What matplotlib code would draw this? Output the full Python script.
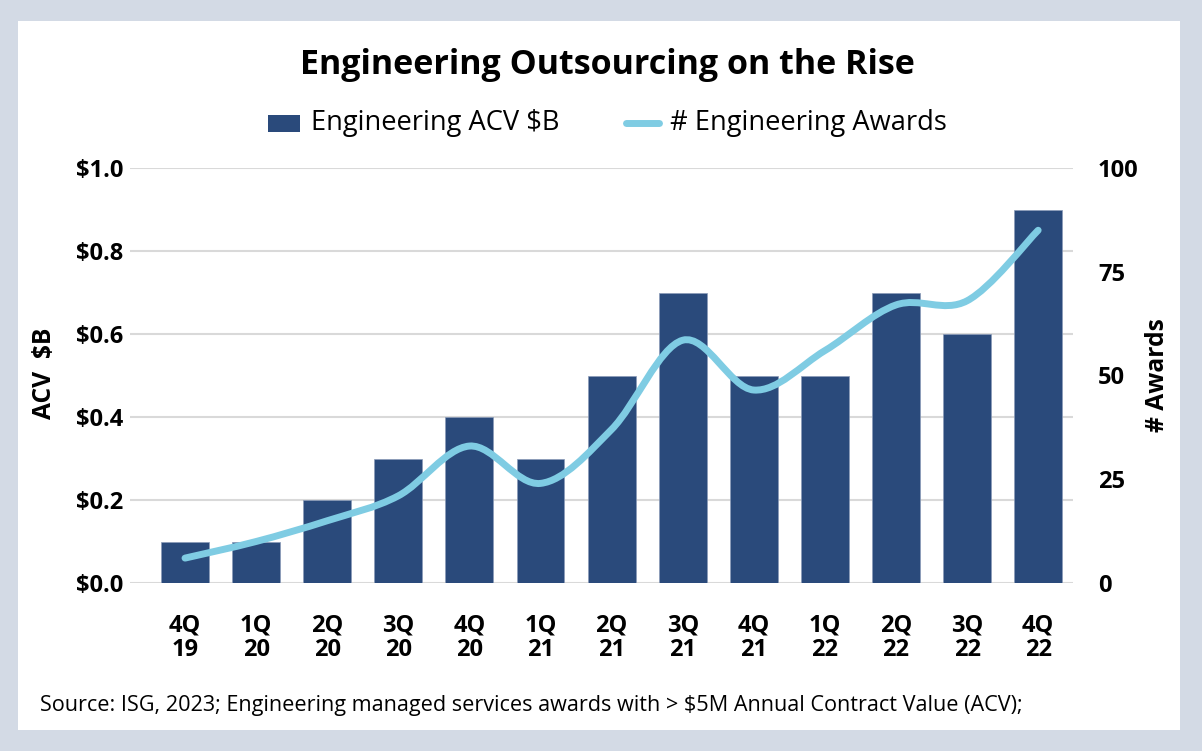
import numpy as np
import matplotlib.pyplot as plt
from matplotlib.patches import Rectangle
from matplotlib.lines import Line2D
from matplotlib.path import Path
from matplotlib.patches import PathPatch

plt.rcParams['font.family'] = ['Open Sans', 'DejaVu Sans']

# Данные
quarters = ['4Q\n19', '1Q\n20', '2Q\n20', '3Q\n20', '4Q\n20', '1Q\n21', '2Q\n21',
            '3Q\n21', '4Q\n21', '1Q\n22', '2Q\n22', '3Q\n22', '4Q\n22']
acv = [0.1, 0.1, 0.2, 0.3, 0.4, 0.3, 0.5, 0.7, 0.5, 0.5, 0.7, 0.6, 0.9]
awards = [6, 10, 15, 21, 33, 24, 37, 58.5, 46.5, 56, 67, 68, 85]
left_ticks = [0.0, 0.2, 0.4, 0.6, 0.8, 1.0]
right_ticks = [0, 25, 50, 75, 100]

bar_color = '#2A4A7B'
line_color = '#7FCCE3'
grid_color = '#D9D9D9'

W, H = 1202, 751
fig = plt.figure(figsize=(W / 100, H / 100), dpi=100, facecolor='#D3DAE5')
fig.patches.append(Rectangle((18 / W, 1 - 730 / H), (1180 - 18) / W, (730 - 21) / H,
                             transform=fig.transFigure, facecolor='white',
                             edgecolor='none', zorder=-5))

ax = fig.add_axes([130 / W, 1 - 583 / H, (1073 - 130) / W, (583 - 168) / H])
ax.set_facecolor('white')
x = np.arange(len(quarters))
ax.bar(x, acv, width=0.675, color=bar_color, edgecolor='#8A9BB8', linewidth=0.5, zorder=2)
ax.set_xlim(-0.774, 12.49)
ax.set_ylim(0, 1.0)
ax.set_yticks(left_ticks)
ax.set_yticklabels([f'${v:.1f}' for v in left_ticks])
ax.set_xticks(x)
ax.set_xticklabels(quarters, linespacing=1.05)
ax.grid(axis='y', color=grid_color, linewidth=1.5, zorder=0)
ax.set_axisbelow(True)
for s in ax.spines.values():
    s.set_visible(False)
ax.tick_params(axis='y', length=0, pad=5, labelsize=17)
ax.tick_params(axis='x', length=0, pad=22, labelsize=17)
for lbl in ax.get_xticklabels() + ax.get_yticklabels():
    lbl.set_fontweight('bold')
ax.set_ylabel('ACV  $B', fontsize=17.7, fontweight='bold')
ax.yaxis.set_label_coords(-0.0774, 0.505)

# Правая ось: сглаженная линия (кривые Безье как в Excel)
ax2 = ax.twinx()
ax2.set_ylim(0, 100)
ax2.set_yticks(right_ticks)
ax2.tick_params(axis='y', length=0, pad=18, labelsize=17)
for lbl in ax2.get_yticklabels():
    lbl.set_fontweight('bold')
for s in ax2.spines.values():
    s.set_visible(False)
ax2.set_ylabel('# Awards', fontsize=17.7, fontweight='bold')
ax2.yaxis.set_label_coords(1.0764, 0.5)

pts = np.column_stack([x, awards]).astype(float)
n = len(pts)
verts = [pts[0]]
codes = [Path.MOVETO]
for i in range(n - 1):
    p0 = pts[max(i - 1, 0)]
    p1 = pts[i]
    p2 = pts[i + 1]
    p3 = pts[min(i + 2, n - 1)]
    c1 = p1 + (p2 - p0) / 6
    c2 = p2 - (p3 - p1) / 6
    verts += [c1, c2, p2]
    codes += [Path.CURVE4] * 3
ax2.add_patch(PathPatch(Path(verts, codes), facecolor='none', edgecolor=line_color,
                        linewidth=5, capstyle='round', joinstyle='round', zorder=3))

# Заголовок и легенда
fig.text(0.505, 1 - 65 / H, 'Engineering Outsourcing on the Rise', ha='center', va='center',
         fontsize=24.5, fontweight='bold')
fig.patches.append(Rectangle((268 / W, 1 - 132 / H), 32 / W, 17 / H, transform=fig.transFigure,
                             facecolor=bar_color, edgecolor='none'))
fig.text(311 / W, 1 - 123 / H, 'Engineering ACV $B', ha='left', va='center', fontsize=19.6)
fig.lines.append(Line2D([626 / W, 659 / W], [1 - 123 / H, 1 - 123 / H], transform=fig.transFigure,
                        color=line_color, linewidth=5, solid_capstyle='round'))
fig.text(670 / W, 1 - 123 / H, '# Engineering Awards', ha='left', va='center', fontsize=19.6)

fig.text(40 / W, 1 - 711 / H,
         'Source: ISG, 2023; Engineering managed services awards with > $5M Annual Contract Value (ACV);',
         ha='left', va='baseline', fontsize=15.6)

fig.savefig('out.png', dpi=100, facecolor=fig.get_facecolor())
